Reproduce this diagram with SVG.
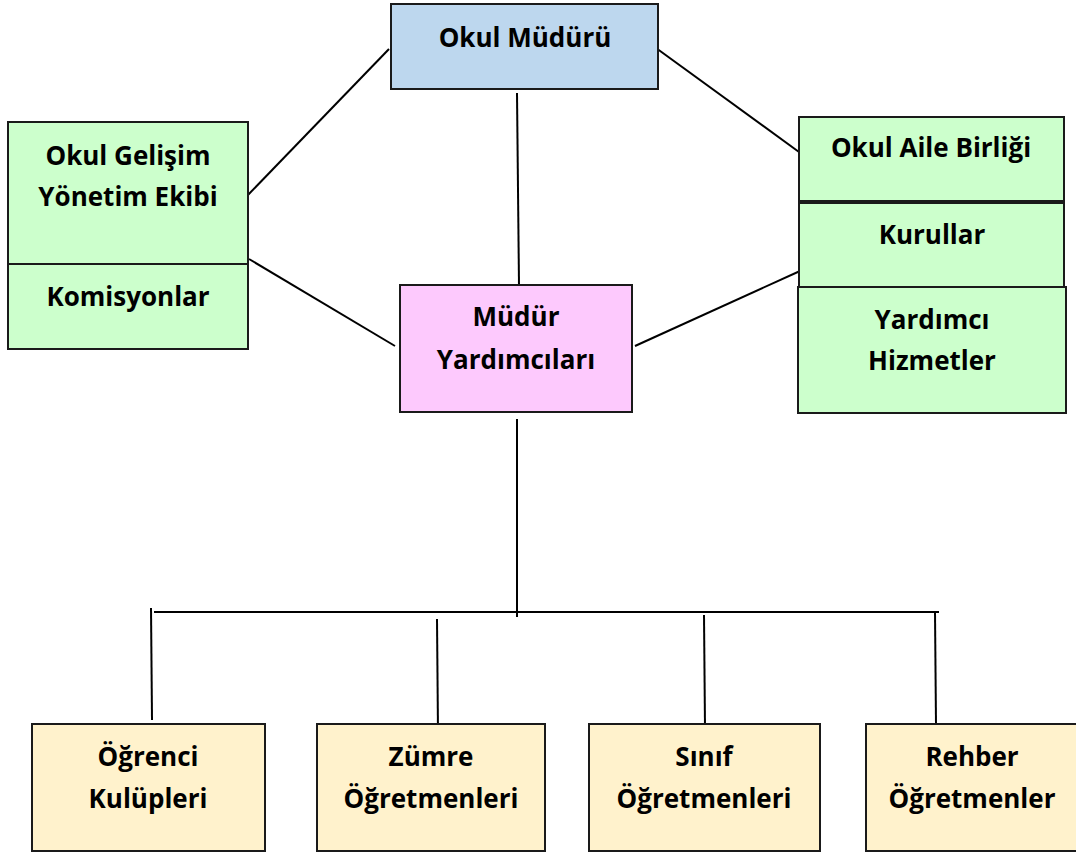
<svg xmlns="http://www.w3.org/2000/svg" width="1076" height="852" viewBox="0 0 1076 852">
<style>
.box{stroke:#1a1a1a;stroke-width:2}
.blue{fill:#bdd7ee}
.green{fill:#ccffcc}
.pink{fill:#fdc9fd}
.yellow{fill:#fff2cc}
.t{font-family:"Open Sans","Noto Sans",sans-serif;font-weight:bold;font-size:26px;fill:#000;text-anchor:middle}
.c{stroke:#000;stroke-width:2;fill:none}
</style>
<rect width="1076" height="852" fill="#fff"/>
<g id="connectors">
<line class="c" x1="389" y1="49" x2="247" y2="196"/>
<line class="c" x1="249" y1="259" x2="395" y2="346"/>
<line class="c" x1="517" y1="93" x2="519" y2="285"/>
<line class="c" x1="656" y1="48" x2="799" y2="152"/>
<line class="c" x1="635" y1="346" x2="800" y2="271"/>
<line class="c" x1="517" y1="419" x2="517" y2="617"/>
<line class="c" x1="154" y1="612" x2="939" y2="612"/>
<line class="c" x1="151" y1="608" x2="152" y2="720"/>
<line class="c" x1="437" y1="619" x2="438" y2="733"/>
<line class="c" x1="704" y1="615" x2="705" y2="728"/>
<line class="c" x1="935" y1="612" x2="936" y2="725"/>
</g>
<g id="okul-muduru">
<rect class="box blue" x="391" y="4" width="267" height="85"/>
<text class="t" x="525" y="47">Okul Müdürü</text>
</g>
<g id="okul-gelisim">
<rect class="box green" x="8" y="122" width="240" height="142"/>
<text class="t" x="128" y="165">Okul Gelişim</text>
<text class="t" x="128" y="206">Yönetim Ekibi</text>
</g>
<g id="komisyonlar">
<rect class="box green" x="8" y="264" width="240" height="85"/>
<text class="t" x="128" y="306">Komisyonlar</text>
</g>
<g id="okul-aile-birligi">
<rect class="box green" x="799" y="117" width="265" height="84"/>
<text class="t" x="931" y="157">Okul Aile Birliği</text>
</g>
<g id="kurullar">
<rect class="box green" x="799" y="203" width="265" height="84"/>
<text class="t" x="932" y="244">Kurullar</text>
</g>
<g id="yardimci-hizmetler">
<rect class="box green" x="798" y="287" width="268" height="126"/>
<text class="t" x="932" y="329">Yardımcı</text>
<text class="t" x="932" y="370">Hizmetler</text>
</g>
<g id="mudur-yardimcilari">
<rect class="box pink" x="400" y="285" width="232" height="127"/>
<text class="t" x="516" y="326">Müdür</text>
<text class="t" x="516" y="369">Yardımcıları</text>
</g>
<g id="ogrenci-kulupleri">
<rect class="box yellow" x="32" y="724" width="233" height="127"/>
<text class="t" x="148" y="766">Öğrenci</text>
<text class="t" x="148" y="808">Kulüpleri</text>
</g>
<g id="zumre-ogretmenleri">
<rect class="box yellow" x="317" y="724" width="228" height="127"/>
<text class="t" x="431" y="766">Zümre</text>
<text class="t" x="431" y="808">Öğretmenleri</text>
</g>
<g id="sinif-ogretmenleri">
<rect class="box yellow" x="589" y="724" width="231" height="127"/>
<text class="t" x="704" y="766">Sınıf</text>
<text class="t" x="704" y="808">Öğretmenleri</text>
</g>
<g id="rehber-ogretmenler">
<rect class="box yellow" x="866" y="724" width="212" height="127"/>
<text class="t" x="972" y="766">Rehber</text>
<text class="t" x="972" y="808">Öğretmenler</text>
</g>
</svg>
